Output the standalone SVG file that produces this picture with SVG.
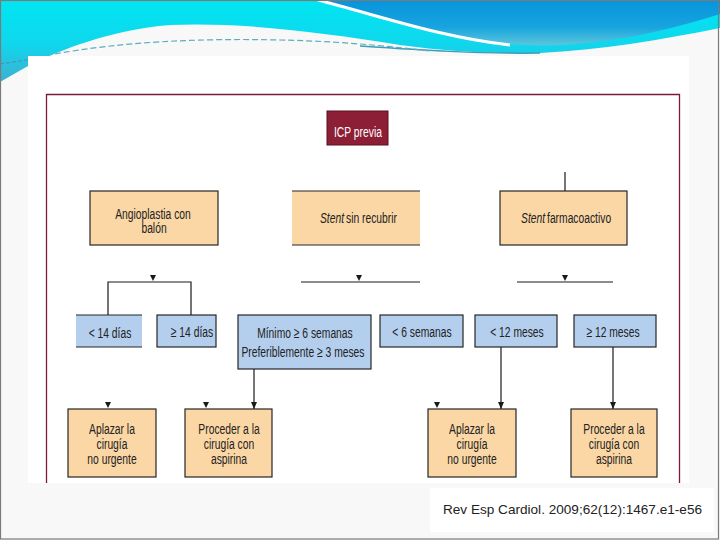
<svg xmlns="http://www.w3.org/2000/svg" width="720" height="540" viewBox="0 0 720 540">
<defs>
<linearGradient id="cyan" x1="0" y1="0" x2="0" y2="1">
<stop offset="0" stop-color="#00e6f2"/><stop offset="0.5" stop-color="#10d6ec"/><stop offset="1" stop-color="#4aa6cc"/>
</linearGradient>
<linearGradient id="blue" x1="0" y1="0" x2="0" y2="1">
<stop offset="0" stop-color="#0694dc"/><stop offset="0.6" stop-color="#18a4de"/><stop offset="1" stop-color="#5cc6dc"/>
</linearGradient>
<marker id="ah" viewBox="0 0 7 6" refX="7" refY="3" markerWidth="7" markerHeight="6" markerUnits="userSpaceOnUse" orient="auto">
<path d="M0,0 L7,3 L0,6 Z" fill="#1a1a1a"/>
</marker>
<path id="tri" d="M-3,0 L3,0 L0,6 Z"/>
</defs>
<style>
.t{font-family:"Liberation Sans",Arial,sans-serif;font-size:15.5px;fill:#222;text-anchor:middle;}
.s{text-anchor:start;}
.i{font-style:italic;}
.w{fill:#fff;}
.peach{fill:#fbd7a5;stroke:#262626;stroke-width:1.2;}
.blue{fill:#b4cfee;stroke:#262626;stroke-width:1.2;}
.edge{stroke:#262626;stroke-width:1.2;fill:none;}
.c{stroke:#1a1a1a;stroke-width:1.2;fill:none;}
.tri{fill:#1a1a1a;}
</style>
<!-- slide background -->
<rect x="0" y="0" width="720" height="540" fill="#f6f6f6"/>
<path d="M0,0 H720 V90 H0 Z" fill="url(#cyan)"/>
<path d="M320,0 C380,15 440,36 510,44 C580,50 650,36 720,14 V0 Z" fill="url(#blue)"/>
<path d="M318,0 C380,16 440,37 510,45" stroke="#ffffff" stroke-width="3" fill="none"/>
<path d="M0,82 L28,66 C60,50 110,30 170,25 C240,22 320,32 400,45 C450,52 500,54 540,53 C600,50 660,40 720,28 V540 H0 Z" fill="#f8f8f8"/>
<path d="M360,46 C420,50 480,54 540,53" stroke="#3a9fb8" stroke-width="1.5" fill="none"/>
<path d="M55,54 C120,42 200,38 280,40 C330,41 380,45 430,51" stroke="#5aaebd" stroke-width="1.2" stroke-dasharray="6,3" fill="none"/>
<path d="M0,64 L40,58" stroke="#4c8ea8" stroke-width="1" stroke-dasharray="4,2" fill="none"/>
<rect x="0.5" y="0.5" width="718" height="538.5" fill="none" stroke="#7a7a7a" stroke-width="1.2"/>
<!-- figure area -->
<rect x="28" y="56" width="661" height="427" fill="#ffffff"/>
<path d="M46.5,483 V94.5 H679.5 V483" fill="none" stroke="#7a1a3c" stroke-width="1.3"/>
<rect x="430" y="488" width="284" height="44" fill="#ffffff"/>
<text x="443" y="514" font-family="'Liberation Sans',Arial,sans-serif" font-size="13.6" fill="#222" textLength="259" lengthAdjust="spacingAndGlyphs">Rev Esp Cardiol. 2009;62(12):1467.e1-e56</text>

<!-- connectors -->
<g id="connectors">
<line class="c" x1="565" y1="172" x2="565" y2="191"/>
<use href="#tri" class="tri" x="153" y="275"/>
<polyline class="c" points="108,315 108,282 191,282 191,315"/>
<use href="#tri" class="tri" x="359" y="275"/>
<line class="c" x1="301" y1="282" x2="420" y2="282"/>
<use href="#tri" class="tri" x="565" y="275"/>
<line class="c" x1="517" y1="282" x2="613" y2="282"/>
<line class="c" x1="254" y1="369" x2="254" y2="409" marker-end="url(#ah)"/>
<line class="c" x1="501" y1="347" x2="501" y2="409" marker-end="url(#ah)"/>
<line class="c" x1="613" y1="347" x2="613" y2="409" marker-end="url(#ah)"/>
<use href="#tri" class="tri" x="108" y="402"/>
<use href="#tri" class="tri" x="206" y="402"/>
<use href="#tri" class="tri" x="437" y="402"/>
</g>

<g id="icp">
<rect x="327" y="111" width="61" height="34" fill="#8c1e36" stroke="#5a1020" stroke-width="1"/>
<g transform="scale(0.665,1)"><text class="t w" x="538.3" y="137">ICP previa</text></g>
</g>
<g id="angioplastia">
<rect class="peach" x="90" y="191" width="128" height="54"/>
<g transform="scale(0.665,1)">
<text class="t" x="230.1" y="219">Angioplastia con</text>
<text class="t" x="231.6" y="233">balón</text>
</g>
</g>
<g id="stent-sin">
<rect x="292" y="191" width="128" height="54" fill="#fbd7a5"/>
<line class="edge" x1="292" y1="191" x2="420" y2="191"/>
<line class="edge" x1="292" y1="245" x2="420" y2="245"/>
<g transform="scale(0.665,1)">
<text class="t s i" x="481.2" y="223">Stent</text>
<text class="t s" x="520.3" y="223">sin recubrir</text>
</g>
</g>
<g id="stent-farm">
<rect class="peach" x="500" y="191" width="127" height="54"/>
<g transform="scale(0.665,1)">
<text class="t s i" x="783.5" y="223">Stent</text>
<text class="t s" x="822.6" y="223">farmacoactivo</text>
</g>
</g>
<g id="lt14">
<rect x="76" y="315" width="66" height="32" fill="#b4cfee"/>
<line class="edge" x1="76" y1="315" x2="142" y2="315"/>
<line class="edge" x1="76" y1="347" x2="142" y2="347"/>
<g transform="scale(0.665,1)"><text class="t" x="165.4" y="338">&lt; 14 días</text></g>
</g>
<g id="ge14">
<rect class="blue" x="157" y="315" width="59" height="32"/>
<g transform="scale(0.665,1)"><text class="t" x="288.7" y="337">≥ 14 días</text></g>
</g>
<g id="minimo">
<rect class="blue" x="238" y="315" width="133" height="54"/>
<g transform="scale(0.665,1)">
<text class="t" x="458.6" y="338">Mínimo ≥ 6 semanas</text>
<text class="t" x="455.6" y="357">Preferiblemente ≥ 3 meses</text>
</g>
</g>
<g id="lt6">
<rect class="blue" x="380" y="315" width="83" height="32"/>
<g transform="scale(0.665,1)"><text class="t" x="634.6" y="337">&lt; 6 semanas</text></g>
</g>
<g id="lt12">
<rect class="blue" x="475" y="315" width="82" height="32"/>
<g transform="scale(0.665,1)"><text class="t" x="777.4" y="337">&lt; 12 meses</text></g>
</g>
<g id="ge12">
<rect class="blue" x="574" y="315" width="82" height="32"/>
<g transform="scale(0.665,1)"><text class="t" x="921.8" y="337">≥ 12 meses</text></g>
</g>
<g id="aplazar1">
<rect class="peach" x="68" y="409" width="88" height="68"/>
<g transform="scale(0.665,1)">
<text class="t" x="168.4" y="434">Aplazar la</text>
<text class="t" x="168.4" y="449">cirugía</text>
<text class="t" x="168.4" y="464">no urgente</text>
</g>
</g>
<g id="proceder1">
<rect class="peach" x="185" y="409" width="87" height="68"/>
<g transform="scale(0.665,1)">
<text class="t" x="344.4" y="434">Proceder a la</text>
<text class="t" x="344.4" y="449">cirugía con</text>
<text class="t" x="344.4" y="464">aspirina</text>
</g>
</g>
<g id="aplazar2">
<rect class="peach" x="428" y="409" width="88" height="68"/>
<g transform="scale(0.665,1)">
<text class="t" x="709.8" y="434">Aplazar la</text>
<text class="t" x="709.8" y="449">cirugía</text>
<text class="t" x="709.8" y="464">no urgente</text>
</g>
</g>
<g id="proceder2">
<rect class="peach" x="571" y="409" width="86" height="68"/>
<g transform="scale(0.665,1)">
<text class="t" x="923.3" y="434">Proceder a la</text>
<text class="t" x="923.3" y="449">cirugía con</text>
<text class="t" x="923.3" y="464">aspirina</text>
</g>
</g>
</svg>
